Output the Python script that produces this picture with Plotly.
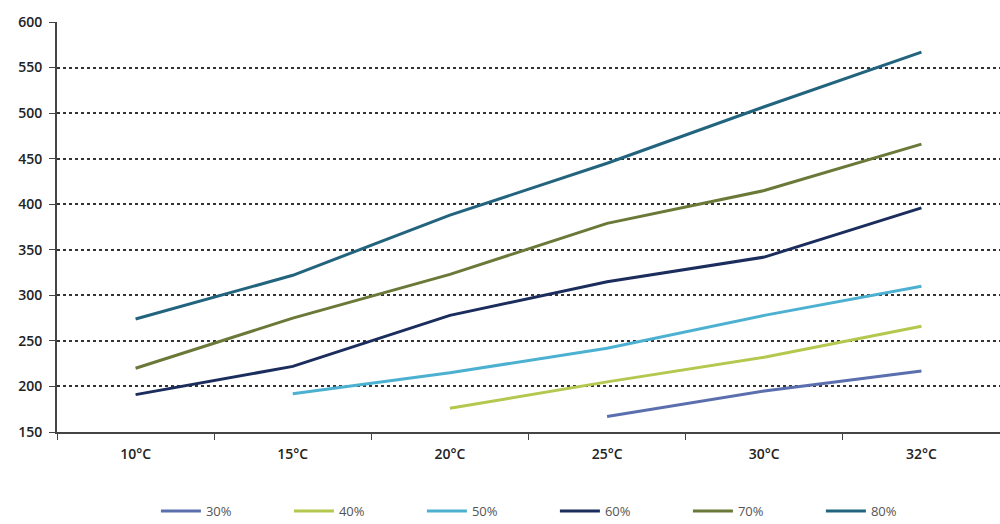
import plotly.graph_objects as go

temps = ["10°C", "15°C", "20°C", "25°C", "30°C", "32°C"]

rh_30 = [None, None, None, 167, 195, 217]
rh_40 = [None, None, 176, 205, 232, 266]
rh_50 = [None, 192, 215, 242, 278, 310]
rh_60 = [191, 222, 278, 315, 342, 396]
rh_70 = [220, 275, 323, 379, 415, 466]
rh_80 = [274, 322, 388, 445, 507, 567]

series = [
    ("30%", rh_30, "#5b6fae"),
    ("40%", rh_40, "#b3c84e"),
    ("50%", rh_50, "#4cb1d1"),
    ("60%", rh_60, "#1b2d5c"),
    ("70%", rh_70, "#6a7838"),
    ("80%", rh_80, "#22647e"),
]

fig = go.Figure()
for name, vals, color in series:
    fig.add_trace(go.Scatter(
        x=temps, y=vals, name=name, mode="lines",
        line=dict(color=color, width=3),
        connectgaps=False,
    ))

tick_font = dict(size=14, color="#222222", family="Open Sans", weight=600)

fig.update_layout(
    width=1000, height=524,
    margin=dict(l=57, r=0, t=22, b=92, autoexpand=False),
    paper_bgcolor="white", plot_bgcolor="white",
    font=dict(family="Open Sans", size=13, color="#333333"),
    showlegend=True,
    legend=dict(orientation="h", x=0.528, xanchor="center", y=-0.193, yanchor="middle",
                font=dict(size=13, color="#555555"), itemwidth=40,
                entrywidth=78, entrywidthmode="pixels",
                traceorder="normal"),
    xaxis=dict(
        type="category", range=[-0.5, 5.5],
        showline=True, linecolor="#444444", linewidth=2,
        ticks="outside", tickson="boundaries", ticklen=6, tickcolor="#444444",
        showgrid=False, ticklabelstandoff=8,
        tickfont=tick_font,
    ),
    yaxis=dict(
        range=[150, 600], dtick=50,
        showline=True, linecolor="#444444", linewidth=2,
        ticks="outside", ticklen=6, tickcolor="#444444",
        showgrid=True, gridcolor="#333333", griddash="dot", gridwidth=1.5,
        tickfont=tick_font, ticklabelstandoff=4,
        zeroline=False,
    ),
)

fig.write_html("out.html")
